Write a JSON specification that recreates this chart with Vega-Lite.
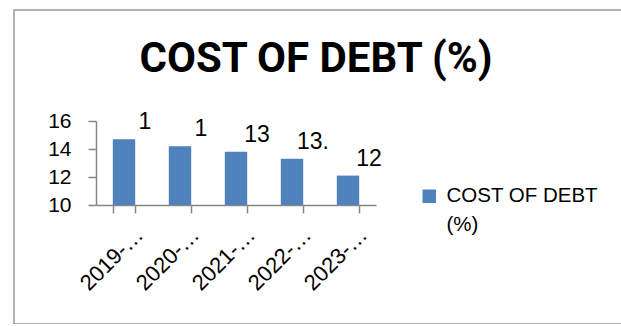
{
  "$schema": "https://vega.github.io/schema/vega-lite/v6.json",
  "width": 640,
  "height": 314,
  "autosize": "none",
  "padding": {"left": 14, "top": 10, "right": 0, "bottom": 0},
  "background": "white",
  "title": {
    "text": "COST OF DEBT (%)",
    "font": "Roboto",
    "fontSize": 42,
    "fontWeight": "bold",
    "color": "black",
    "anchor": "middle",
    "dx": -18,
    "dy": 104,
    "offset": 0,
    "baseline": "alphabetic"
  },
  "data": {
    "values": [
      {"year": "2019-2020", "value": 14.7, "label": "1", "series": "COST OF DEBT (%)"},
      {"year": "2020-2021", "value": 14.2, "label": "1", "series": "COST OF DEBT (%)"},
      {"year": "2021-2022", "value": 13.8, "label": "13", "series": "COST OF DEBT (%)"},
      {"year": "2022-2023", "value": 13.3, "label": "13.", "series": "COST OF DEBT (%)"},
      {"year": "2023-2024", "value": 12.1, "label": "12", "series": "COST OF DEBT (%)"}
    ]
  },
  "layer": [
    {
      "mark": {"type": "bar", "color": "#4F81BD"},
      "encoding": {
        "x": {
          "field": "year",
          "type": "nominal",
          "sort": null,
          "scale": {"range": [82, 362], "paddingInner": 0.6, "paddingOuter": 0.3},
          "axis": {
            "title": null,
            "offset": -119,
            "domainColor": "#868686",
            "domainWidth": 1.5,
            "tickColor": "#868686",
            "tickWidth": 1.5,
            "tickSize": 8,
            "tickBand": "extent",
            "labelAngle": -45,
            "labelAlign": "right",
            "labelBaseline": "middle",
            "labelFont": "Liberation Sans",
            "labelFontSize": 22,
            "labelColor": "black",
            "labelLimit": 84,
            "labelOffset": 15,
            "labelPadding": 18,
            "grid": false
          }
        },
        "y": {
          "field": "value",
          "type": "quantitative",
          "scale": {"domain": [10, 16], "range": [195, 111], "nice": false, "zero": false},
          "axis": {
            "title": null,
            "offset": -82,
            "values": [10, 12, 14, 16],
            "domainColor": "#868686",
            "domainWidth": 1.5,
            "tickColor": "#868686",
            "tickWidth": 1.5,
            "tickSize": 8,
            "labelFont": "Liberation Sans",
            "labelFontSize": 21,
            "labelColor": "black",
            "labelPadding": 17,
            "grid": false
          }
        },
        "y2": {"datum": 10},
        "color": {
          "field": "series",
          "type": "nominal",
          "scale": {"range": ["#4F81BD"]},
          "legend": {
            "orient": "none",
            "legendX": 405,
            "legendY": 176,
            "title": null,
            "padding": 0,
            "symbolType": "square",
            "symbolSize": 182,
            "symbolStrokeWidth": 0,
            "labelFont": "Liberation Sans",
            "labelFontSize": 20.5,
            "labelColor": "black",
            "labelBaseline": "middle",
            "labelOffset": 7,
            "labelExpr": "['COST OF DEBT', '(%)']",
            "encode": {"labels": {"update": {"lineHeight": {"value": 29}}}}
          }
        }
      }
    },
    {
      "mark": {"type": "text", "font": "Liberation Sans", "fontSize": 23, "color": "black", "dx": 21, "dy": -17, "baseline": "middle"},
      "encoding": {
        "x": {"field": "year", "type": "nominal", "sort": null},
        "y": {"field": "value", "type": "quantitative"},
        "text": {"field": "label"}
      }
    }
  ],
  "config": {"view": {"stroke": "#9a9a9a", "strokeWidth": 1.5}}
}
